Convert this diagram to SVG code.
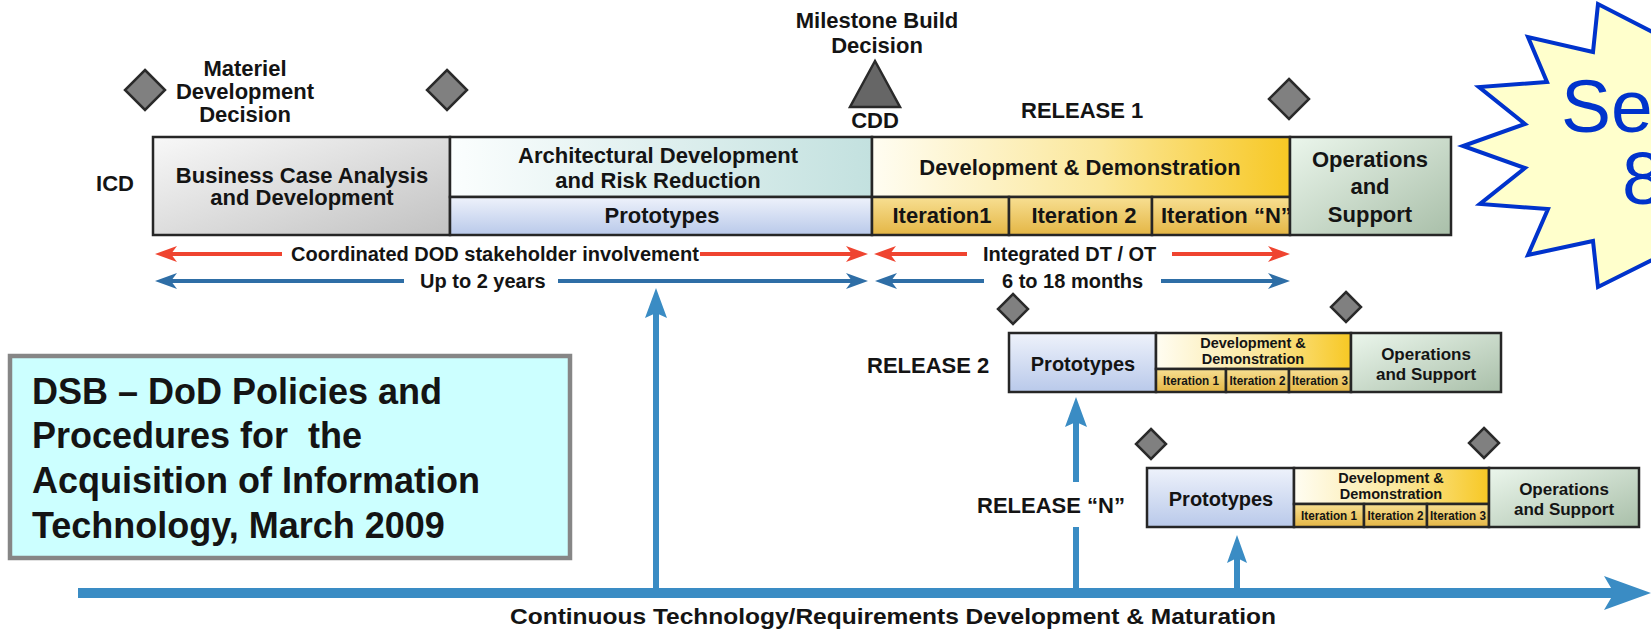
<svg xmlns="http://www.w3.org/2000/svg" width="1651" height="636" viewBox="0 0 1651 636">
<defs>
<linearGradient id="gBiz" x1="0" y1="0" x2="1" y2="1"><stop offset="0" stop-color="#f8f8f8"/><stop offset="1" stop-color="#c2c2c2"/></linearGradient>
<linearGradient id="gArch" x1="0" y1="0" x2="1" y2="0"><stop offset="0" stop-color="#fbfefe"/><stop offset="1" stop-color="#c3e1df"/></linearGradient>
<linearGradient id="gProto" x1="0" y1="0" x2="0" y2="1"><stop offset="0" stop-color="#eef2fb"/><stop offset="1" stop-color="#b9c9ea"/></linearGradient>
<linearGradient id="gDD" x1="0" y1="0" x2="1" y2="0"><stop offset="0" stop-color="#fffdf2"/><stop offset="0.55" stop-color="#fbe79a"/><stop offset="1" stop-color="#f7c824"/></linearGradient>
<linearGradient id="gIter" x1="0" y1="0" x2="0" y2="1"><stop offset="0" stop-color="#f7df92"/><stop offset="1" stop-color="#e4b645"/></linearGradient>
<linearGradient id="gOps" x1="0" y1="0" x2="1" y2="1"><stop offset="0" stop-color="#ebf6ec"/><stop offset="1" stop-color="#a9bfa9"/></linearGradient>
<marker id="mRed" markerUnits="userSpaceOnUse" markerWidth="22" markerHeight="18" refX="12" refY="9" orient="auto"><path d="M0,1 L22,9 L0,17 L6,9 z" fill="#ef4430"/></marker>
<marker id="mBlu" markerUnits="userSpaceOnUse" markerWidth="22" markerHeight="18" refX="12" refY="9" orient="auto"><path d="M0,1 L22,9 L0,17 L6,9 z" fill="#2e6ea6"/></marker>
</defs>
<style>
.b{font-family:'Liberation Sans',Arial,Helvetica,sans-serif;font-weight:bold;fill:#141414}
.s22{font-size:22px}
.s20{font-size:20px}
.s17{font-size:17px}
.s15{font-size:14.5px}
.s12{font-size:12px}
.m{text-anchor:middle}
.box{stroke:#262626;stroke-width:2.5}
.dia{fill:#808080;stroke:#2a2a2a;stroke-width:2.5;stroke-linejoin:miter}
.red{stroke:#ef4430;stroke-width:4;fill:none;marker-end:url(#mRed)}
.blu{stroke:#2e6ea6;stroke-width:4;fill:none;marker-end:url(#mBlu)}
.up{stroke:#3a8cc4;stroke-width:6;fill:none}
.uph{fill:#3a8cc4}
</style>
<rect x="0" y="0" width="1651" height="636" fill="#ffffff"/>

<!-- milestones -->
<g id="mdd">
<polygon class="dia" points="145,70 165,90 145,110 125,90"/>
<text class="b s22 m" x="245" y="76">Materiel</text>
<text class="b s22 m" x="245" y="99">Development</text>
<text class="b s22 m" x="245" y="122">Decision</text>
</g>
<g id="ms-a"><polygon class="dia" points="447,70 467,90 447,110 427,90"/></g>
<g id="cdd">
<text class="b s22 m" x="877" y="28">Milestone Build</text>
<text class="b s22 m" x="877" y="53">Decision</text>
<polygon points="875,61 900,107 850,107" fill="#666666" stroke="#2a2a2a" stroke-width="2.5"/>
<text class="b s22 m" x="875" y="128">CDD</text>
</g>
<g id="release1-label"><text class="b s22" x="1021" y="118">RELEASE 1</text></g>
<g id="ms-b"><polygon class="dia" points="1289,79 1309,99 1289,119 1269,99"/></g>

<!-- release 1 -->
<g id="icd"><text class="b s22 m" x="115" y="191">ICD</text></g>
<g id="business">
<rect class="box" x="153" y="137" width="297" height="98" fill="url(#gBiz)"/>
<text class="b s22 m" x="302" y="183">Business Case Analysis</text>
<text class="b s22 m" x="302" y="205">and Development</text>
</g>
<g id="arch">
<rect class="box" x="450" y="137" width="422" height="60" fill="url(#gArch)"/>
<text class="b s22 m" x="658" y="163">Architectural Development</text>
<text class="b s22 m" x="658" y="188">and Risk Reduction</text>
</g>
<g id="prototypes">
<rect class="box" x="450" y="197" width="422" height="38" fill="url(#gProto)"/>
<text class="b s22 m" x="662" y="223">Prototypes</text>
</g>
<g id="dd">
<rect class="box" x="872" y="137" width="418" height="60" fill="url(#gDD)"/>
<text class="b s22 m" x="1080" y="175">Development &amp; Demonstration</text>
</g>
<g id="iter1">
<rect class="box" x="872" y="197" width="137" height="38" fill="url(#gIter)"/>
<text class="b s22 m" x="942" y="223">Iteration1</text>
</g>
<g id="iter2">
<rect class="box" x="1009" y="197" width="143" height="38" fill="url(#gIter)"/>
<text class="b s22 m" x="1084" y="223">Iteration 2</text>
</g>
<g id="iterN">
<rect class="box" x="1152" y="197" width="138" height="38" fill="url(#gIter)"/>
<text class="b s22" x="1161" y="223">Iteration “N”</text>
</g>
<g id="ops">
<rect class="box" x="1290" y="137" width="161" height="98" fill="url(#gOps)"/>
<text class="b s22 m" x="1370" y="167">Operations</text>
<text class="b s22 m" x="1370" y="194">and</text>
<text class="b s22 m" x="1370" y="222">Support</text>
</g>

<!-- duration labels -->
<g id="labels">
<text class="b s20" x="291" y="261">Coordinated DOD stakeholder involvement</text>
<text class="b s20" x="420" y="288">Up to 2 years</text>
<text class="b s20" x="983" y="261">Integrated DT / OT</text>
<text class="b s20" x="1002" y="288">6 to 18 months</text>
</g>

<!-- release 2 -->
<g id="release2">
<polygon class="dia" points="1013,294 1028,309 1013,324 998,309"/>
<polygon class="dia" points="1346,292 1361,307 1346,322 1331,307"/>
<text class="b s22" x="867" y="373">RELEASE 2</text>
<rect class="box" x="1009" y="333" width="147" height="59" fill="url(#gProto)"/>
<text class="b s20 m" x="1083" y="371">Prototypes</text>
<rect class="box" x="1156" y="333" width="195" height="36" fill="url(#gDD)"/>
<text class="b s15 m" x="1253" y="348">Development &amp;</text>
<text class="b s15 m" x="1253" y="364">Demonstration</text>
<rect class="box" x="1156" y="369" width="70" height="23" fill="url(#gIter)"/>
<rect class="box" x="1226" y="369" width="63" height="23" fill="url(#gIter)"/>
<rect class="box" x="1289" y="369" width="62" height="23" fill="url(#gIter)"/>
<text class="b s12 m" x="1191" y="385" textLength="56" lengthAdjust="spacingAndGlyphs">Iteration 1</text>
<text class="b s12 m" x="1257.5" y="385" textLength="56" lengthAdjust="spacingAndGlyphs">Iteration 2</text>
<text class="b s12 m" x="1320" y="385" textLength="56" lengthAdjust="spacingAndGlyphs">Iteration 3</text>
<rect class="box" x="1351" y="333" width="150" height="59" fill="url(#gOps)"/>
<text class="b s17 m" x="1426" y="360">Operations</text>
<text class="b s17 m" x="1426" y="380">and Support</text>
</g>

<!-- release N -->
<g id="releaseN">
<polygon class="dia" points="1151,429 1166,444 1151,459 1136,444"/>
<polygon class="dia" points="1484,428 1499,443 1484,458 1469,443"/>
<text class="b s22" x="977" y="513">RELEASE “N”</text>
<rect class="box" x="1147" y="468" width="147" height="59" fill="url(#gProto)"/>
<text class="b s20 m" x="1221" y="506">Prototypes</text>
<rect class="box" x="1294" y="468" width="195" height="36" fill="url(#gDD)"/>
<text class="b s15 m" x="1391" y="483">Development &amp;</text>
<text class="b s15 m" x="1391" y="499">Demonstration</text>
<rect class="box" x="1294" y="504" width="70" height="23" fill="url(#gIter)"/>
<rect class="box" x="1364" y="504" width="63" height="23" fill="url(#gIter)"/>
<rect class="box" x="1427" y="504" width="62" height="23" fill="url(#gIter)"/>
<text class="b s12 m" x="1329" y="520" textLength="56" lengthAdjust="spacingAndGlyphs">Iteration 1</text>
<text class="b s12 m" x="1395.5" y="520" textLength="56" lengthAdjust="spacingAndGlyphs">Iteration 2</text>
<text class="b s12 m" x="1458" y="520" textLength="56" lengthAdjust="spacingAndGlyphs">Iteration 3</text>
<rect class="box" x="1489" y="468" width="150" height="59" fill="url(#gOps)"/>
<text class="b s17 m" x="1564" y="495">Operations</text>
<text class="b s17 m" x="1564" y="515">and Support</text>
</g>

<!-- connectors -->
<g id="connectors">
<line class="red" x1="282" y1="254" x2="165" y2="254"/>
<line class="red" x1="700" y1="254" x2="858" y2="254"/>
<line class="red" x1="967" y1="254" x2="884" y2="254"/>
<line class="red" x1="1172" y1="254" x2="1280" y2="254"/>
<line class="blu" x1="404" y1="281" x2="165" y2="281"/>
<line class="blu" x1="558" y1="281" x2="858" y2="281"/>
<line class="blu" x1="984" y1="281" x2="885" y2="281"/>
<line class="blu" x1="1161" y1="281" x2="1280" y2="281"/>
<line class="up" x1="656" y1="593" x2="656" y2="312"/>
<polygon class="uph" points="656,288 667,318 656,313 645,318"/>
<line class="up" x1="1076" y1="593" x2="1076" y2="527"/>
<line class="up" x1="1076" y1="482" x2="1076" y2="420"/>
<polygon class="uph" points="1076,397 1087,427 1076,422 1065,427"/>
<line class="up" x1="1237" y1="593" x2="1237" y2="558"/>
<polygon class="uph" points="1237,535 1247,563 1237,558 1227,563"/>
</g>

<!-- timeline axis -->
<g id="axis">
<rect x="78" y="588" width="1536" height="10" fill="#3a8cc4"/>
<polygon points="1604,576 1651,593 1604,610 1614,593" fill="#3a8cc4"/>
<text class="b" x="893" y="624" text-anchor="middle" font-size="22" textLength="766" lengthAdjust="spacingAndGlyphs">Continuous Technology/Requirements Development &amp; Maturation</text>
</g>

<!-- citation box -->
<g id="dsb">
<rect x="10" y="356" width="560" height="202" fill="#ccffff" stroke="#868686" stroke-width="4.5"/>
<text class="b" font-size="36" x="32" y="404">DSB – DoD Policies and</text>
<text class="b" font-size="36" x="32" y="448" xml:space="preserve">Procedures for  the</text>
<text class="b" font-size="36" x="32" y="493">Acquisition of Information</text>
<text class="b" font-size="36" x="32" y="538">Technology, March 2009</text>
</g>

<!-- starburst callout -->
<g id="starburst">
<polygon points="1598,4 1593,52 1528,37 1547,82 1479,87 1525,124 1463,146 1525,168 1480,204 1548,209 1528,255 1593,241 1598,287 1660,256 1700,146 1660,36" fill="#ffffcc" stroke="#0033cc" stroke-width="4"/>
<text font-family="'Liberation Sans',Arial,sans-serif" font-size="75" fill="#0033cc"><tspan x="1561" y="132">Se</tspan><tspan x="1622" y="204">8</tspan></text>
</g>
</svg>
